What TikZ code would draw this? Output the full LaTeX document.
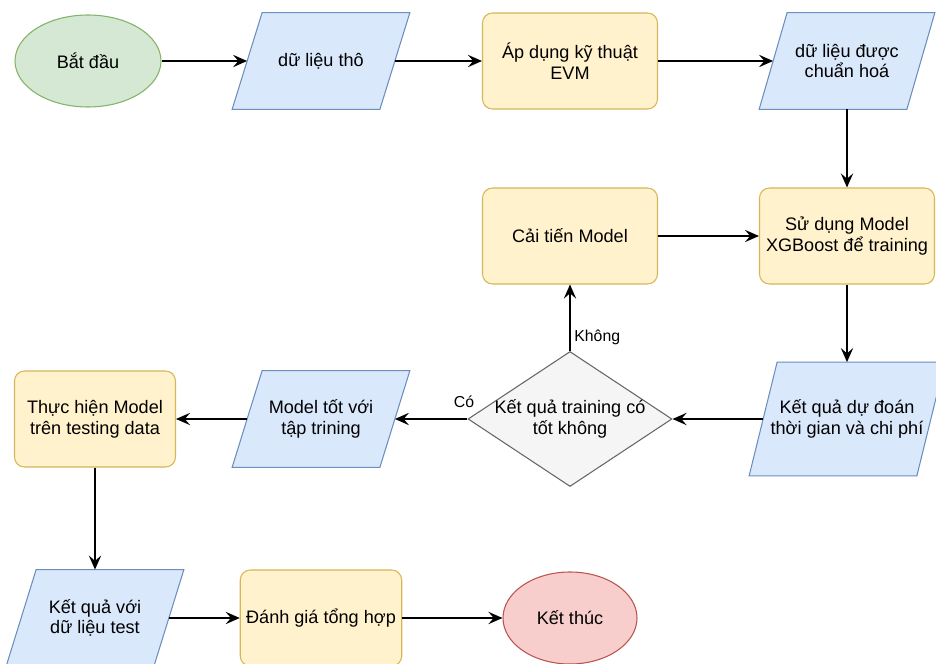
\documentclass[tikz,border=0pt]{standalone}
\usepackage{fontspec}
\setmainfont{Liberation Sans}
\usepackage{xcolor}
\usetikzlibrary{positioning,shapes.geometric,arrows.meta,backgrounds}

\definecolor{startfill}{HTML}{D5E8D4}
\definecolor{startline}{HTML}{82B366}
\definecolor{iofill}{HTML}{DAE8FC}
\definecolor{ioline}{HTML}{6C8EBF}
\definecolor{procfill}{HTML}{FFF2CC}
\definecolor{procline}{HTML}{D6B656}
\definecolor{endfill}{HTML}{F8CECC}
\definecolor{endline}{HTML}{B85450}
\definecolor{askfill}{HTML}{F5F5F5}
\definecolor{askline}{HTML}{666666}

\begin{document}
\begin{tikzpicture}[%
    ->,
    >={Stealth[length=8pt,width=7pt,inset=3pt]},
    line width=1pt,
    on grid,
    font=\fontsize{10.3}{11.8}\selectfont,
    terminal/.style={%
      ellipse,
      line width=0.6pt,
      minimum width=2.92cm,
      minimum height=1.84cm,
      draw
    },
    iobox/.style={%
      rectangle,
      align=center,
      minimum width=2.92cm,
      minimum height=1.9cm
    },
    ioshape/.style={%
      -,
      line width=0.6pt,
      draw=ioline,
      fill=iofill
    },
    procbox/.style={%
      rectangle,
      rounded corners=0.2cm,
      align=center,
      line width=0.6pt,
      minimum width=3.5cm,
      minimum height=1.92cm,
      draw=procline,
      fill=procfill
    },
    askbox/.style={%
      diamond,
      line width=0.6pt,
      minimum width=4.08cm,
      minimum height=2.7cm,
      inner sep=0pt,
      draw=askline,
      fill=askfill
    },
    answer/.style={%
      font=\fontsize{9}{11}\selectfont,
      inner sep=2pt
    }
  ]
    \useasboundingbox (0,0) rectangle (18.72,-13.28);

    % first row
    \node[terminal, draw=startline, fill=startfill] (start) at (1.76,-1.22) {Bắt đầu};
    \node[iobox] (raw) [right=4.66cm of start]                      {dữ liệu thô};
    \node[procbox] (evm) [right=4.98cm of raw]                      {Áp dụng kỹ thuật\\EVM};
    \node[iobox] (norm) [right=5.54cm of evm]                       {dữ liệu được\\chuẩn hoá};

    % training loop
    \node[procbox] (train) [below=3.5cm of norm]                    {Sử dụng Model\\XGBoost để training};
    \node[procbox] (improve) [left=5.54cm of train]                 {Cải tiến Model};
    \node[iobox, minimum width=3.32cm, minimum height=2.24cm] (predict) [below=3.66cm of train]
                                                                    {Kết quả dự đoán\\thời gian và chi phí};
    \node[askbox, label={[align=center]center:Kết quả training có\\tốt không}] (check) [below=3.66cm of improve] {};
    \node[iobox] (good) [left=4.98cm of check]                      {Model tốt với\\tập trining};
    \node[procbox, minimum width=3.22cm] (apply) [left=4.52cm of good] {Thực hiện Model\\trên testing data};

    % last row
    \node[iobox] (testres) [below=3.98cm of apply]                  {Kết quả với\\dữ liệu test};
    \node[procbox, minimum width=3.2cm] (eval) [right=4.52cm of testres] {Đánh giá tổng hợp};
    \node[terminal, draw=endline, fill=endfill, minimum width=2.68cm] (finish) [right=4.98cm of eval] {Kết thúc};

    % slanted data boxes behind the text
    \begin{scope}[on background layer]
      \foreach \n/\s in {raw/0.3, norm/0.28, predict/0.28, good/0.3, testres/0.3}
        \draw[ioshape] ([xshift=\s cm]\n.north west) -- ([xshift=\s cm]\n.north east)
                       -- ([xshift=-\s cm]\n.south east) -- ([xshift=-\s cm]\n.south west) -- cycle;
    \end{scope}

    \path (start) edge   (raw)
          (raw) edge     (evm)
          (evm) edge     (norm)
          (norm) edge    (train)
          (improve) edge (train)
          (train) edge   (predict)
          (predict) edge (check)
          (check) edge   node[answer, pos=0.2, right] {Không} (improve)
          (check) edge   node[answer, pos=0, above, xshift=-2pt, yshift=4pt] {Có} (good)
          (good) edge    (apply)
          (apply) edge   (testres)
          (testres) edge (eval)
          (eval) edge    (finish)
          ;
\end{tikzpicture}
\end{document}
